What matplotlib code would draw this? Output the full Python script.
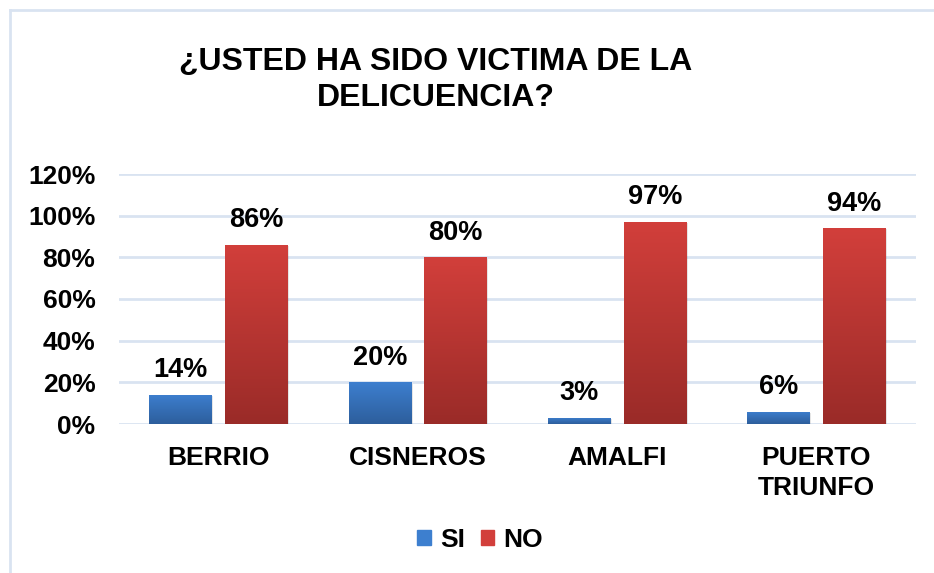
import numpy as np
import matplotlib.pyplot as plt
from matplotlib.colors import LinearSegmentedColormap
from matplotlib.lines import Line2D

plt.rcParams['font.family'] = ['Liberation Sans', 'DejaVu Sans']
plt.rcParams['font.weight'] = 'bold'

# datos
municipios = ['BERRIO', 'CISNEROS', 'AMALFI', 'PUERTO\nTRIUNFO']
si = [14, 20, 3, 6]
no = [86, 80, 97, 94]
series = ['SI', 'NO']
yticks = [0, 20, 40, 60, 80, 100, 120]

azul = ('#3d7fcf', '#2d5e9c')
rojo = ('#d23f3b', '#9a2b28')
borde = '#d9e3f1'

fig = plt.figure(figsize=(9.34, 5.73), dpi=100)
ax = fig.add_axes([119 / 934, 1 - 424 / 573, 797 / 934, 250 / 573])

x = np.arange(len(municipios))
w = 0.315
off = 0.19


def gradiente(barras, colores):
    cmap = LinearSegmentedColormap.from_list('g', [colores[1], colores[0]])
    grad = np.linspace(0, 1, 256).reshape(-1, 1)
    for b in barras:
        x0, y0 = b.get_x(), b.get_y()
        x1, y1 = x0 + b.get_width(), y0 + b.get_height()
        # sombra
        ax.add_patch(plt.Rectangle((x0 + 0.006, y0 - 0.6), b.get_width(), b.get_height(),
                                   color='#000000', alpha=0.10, zorder=2, lw=0))
        im = ax.imshow(grad, extent=[x0, x1, y0, y1], origin='lower', cmap=cmap,
                       aspect='auto', zorder=3)
        im.set_clip_path(b)


b_si = ax.bar(x - off, si, w, color='none', zorder=3)
b_no = ax.bar(x + off, no, w, color='none', zorder=3)
gradiente(b_si, azul)
gradiente(b_no, rojo)

for xi, v in zip(x - off, si):
    ax.text(xi, v + 5.5, f'{v}%', ha='center', va='bottom', fontsize=19.5, fontweight='bold')
for xi, v in zip(x + off, no):
    ax.text(xi, v + 5.5, f'{v}%', ha='center', va='bottom', fontsize=19.5, fontweight='bold')

ax.set_xlim(-0.5, len(municipios) - 0.5)
ax.set_ylim(0, 120)
ax.set_yticks(yticks)
ax.set_yticklabels([f'{t}%' for t in yticks], fontsize=19, fontweight='bold')
ax.set_xticks(x)
ax.set_xticklabels(municipios, fontsize=19, fontweight='bold', va='top', linespacing=1.3)
ax.tick_params(length=0)
ax.tick_params(axis='y', pad=17)
ax.tick_params(axis='x', pad=16)
ax.grid(axis='y', color=borde, lw=2)
ax.set_axisbelow(True)
for s in ax.spines.values():
    s.set_visible(False)

fig.text(436 / 934, 1 - 80 / 573, '¿USTED HA SIDO VICTIMA DE LA\nDELICUENCIA?',
         ha='center', va='center', fontsize=23, fontweight='bold', linespacing=1.25)

handles = [plt.Rectangle((0, 0), 1, 1, color=azul[0]), plt.Rectangle((0, 0), 1, 1, color=rojo[0])]
fig.legend(handles, series, loc='center', bbox_to_anchor=(480 / 934, 1 - 540 / 573),
           ncol=2, frameon=False, handlelength=0.5, handleheight=0.5,
           handletextpad=0.35, columnspacing=0.6, prop={'weight': 'bold', 'size': 19})

fig.add_artist(Line2D([10 / 934, 10 / 934], [0, 1 - 10 / 573], color=borde, lw=2))
fig.add_artist(Line2D([10 / 934, 1], [1 - 10 / 573, 1 - 10 / 573], color=borde, lw=2))

fig.savefig('out.png', dpi=100)
